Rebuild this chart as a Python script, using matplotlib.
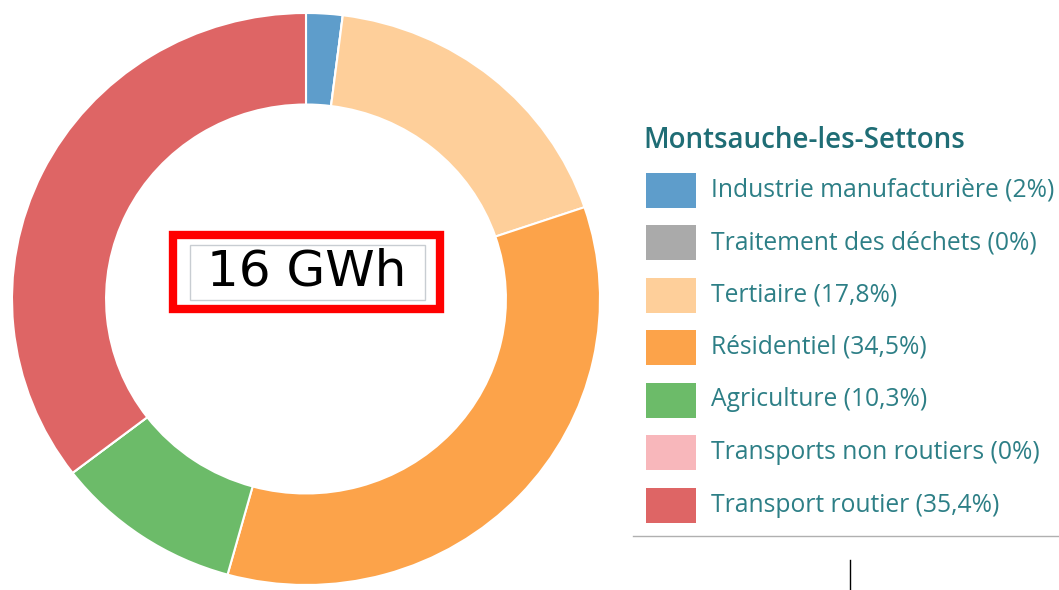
import matplotlib
matplotlib.use("Agg")
import matplotlib.pyplot as plt
from matplotlib.patches import Rectangle

# Consommation d'énergie par secteur
title = "Montsauche-les-Settons"
sectors = ["Industrie manufacturière", "Traitement des déchets", "Tertiaire",
           "Résidentiel", "Agriculture", "Transports non routiers", "Transport routier"]
shares = [2, 0, 17.8, 34.5, 10.3, 0, 35.4]
colors = ["#5e9dcb", "#aaaaaa", "#fecf9a", "#fca34a", "#6cbb69", "#f8b7bb", "#de6565"]
total_label = "16 GWh"

W, H = 1059, 590
fig = plt.figure(figsize=(W / 100, H / 100), dpi=100)

# Anneau (légèrement écrasé verticalement comme dans l'original)
left, right, top, bottom = 12, 600, 13, 585
pax = fig.add_axes([left / W, (H - bottom) / H, (right - left) / W, (bottom - top) / H])
pax.pie(shares, colors=colors, startangle=90, counterclock=False, radius=1,
        wedgeprops=dict(width=0.32, edgecolor="white", linewidth=1.5))
pax.set_aspect("auto")
pax.set_xlim(-1, 1)
pax.set_ylim(-1, 1)
pax.axis("off")

# Calque pour le reste, en pixels
ax = fig.add_axes([0, 0, 1, 1])
ax.set_xlim(0, W)
ax.set_ylim(0, H)
ax.axis("off")

# Total au centre
ax.add_patch(Rectangle((173, H - 309), 267, 74, fill=False, edgecolor="#ff0000", linewidth=6))
ax.add_patch(Rectangle((190, H - 300), 235, 55, fill=False, edgecolor="#c8cdd2", linewidth=1))
ax.text(307, H - 272, total_label, ha="center", va="center", fontsize=36,
        family="DejaVu Sans", color="black")

# Légende
teal = "#1f6d75"
ax.text(643, H - 140, title, ha="left", va="center", fontsize=20,
        family="Open Sans", fontweight="semibold", color=teal)
y0, dy = 190, 52.5
for i, (name, val, col) in enumerate(zip(sectors, shares, colors)):
    y = y0 + i * dy
    ax.add_patch(Rectangle((646, H - y - 17.5), 50, 35, facecolor=col, edgecolor="none"))
    lab = f"{name} ({val:g}%)".replace(".", ",")
    ax.text(711, H - y, lab, ha="left", va="center", fontsize=17.7,
            family="Open Sans", color="#2d7f86")

ax.plot([633, W], [H - 536, H - 536], color="#b0b0b0", linewidth=1)
ax.plot([850, 850], [H - 560, 0], color="black", linewidth=1)

fig.savefig("out.png", dpi=100)
